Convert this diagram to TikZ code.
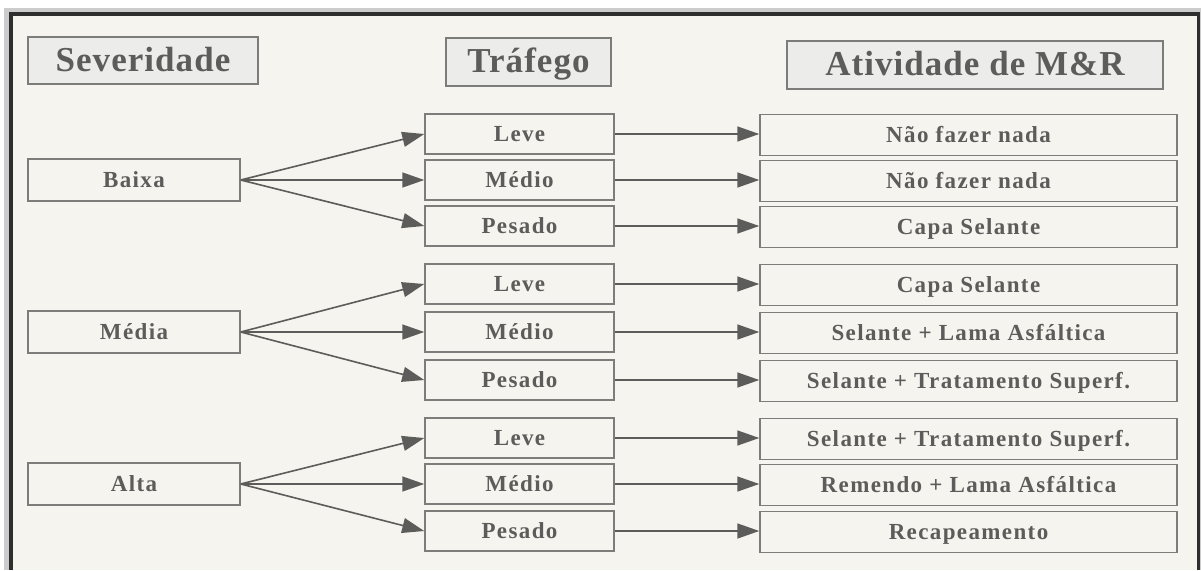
\documentclass[tikz,border=0pt]{standalone}
\usepackage{fontspec}
\setmainfont{Liberation Serif}
\newfontfamily\headfont[LetterSpace=3]{Liberation Serif}
\newfontfamily\boxfont[LetterSpace=6]{Liberation Serif}
\usetikzlibrary{arrows.meta}
\definecolor{paper}{HTML}{F6F4EF}
\definecolor{edge}{HTML}{7C7C7A}
\definecolor{ink}{HTML}{5C5C5A}
\definecolor{headfill}{HTML}{ECECEA}

\begin{document}
\begin{tikzpicture}[x=1pt,y=-1pt,
  head/.style={draw=edge, line width=1.6pt, fill=headfill, text=ink, inner sep=0pt,
    text height=24pt, text depth=3pt,
    font=\headfont\bfseries\fontsize{35}{38}\selectfont},
  box/.style={draw=edge, line width=1.5pt, fill=paper, text=ink, inner sep=0pt,
    text height=16pt, text depth=1pt,
    font=\boxfont\bfseries\fontsize{23}{26}\selectfont},
  sev/.style={box, minimum width=212, minimum height=42},
  traf/.style={box, minimum width=189, minimum height=40},
  acao/.style={box, minimum width=417, minimum height=41},
  seta/.style={draw=ink, line width=1.6pt, -{Triangle[length=22pt,width=15pt]}}]
% frame
\useasboundingbox (0,0) rectangle (1201,570);
\fill[white] (0,0) rectangle (1201,570);
\fill[black!20] (4,8) rectangle (1201,570);
\fill[black!82] (9,12) rectangle (1200,570);
\fill[paper] (13,16) rectangle (1197,570);
% headers
\node[head, minimum width=230, minimum height=47] (hsev) at (143,60.5) {Severidade};
\node[head, minimum width=165, minimum height=48] (htraf) at (528.5,62) {Tráfego};
\node[head, minimum width=376, minimum height=48] (hacao) at (975,65) {Atividade de M\&R};
% severidade
\node[sev] (baixa) at (134,180) {Baixa};
\node[sev] (media) at (134,332) {Média};
\node[sev] (alta) at (134,484) {Alta};
% trafego
\node[traf] (leve1) at (519.5,134) {Leve};
\node[traf] (medio1) at (519.5,180) {Médio};
\node[traf] (pesado1) at (519.5,226) {Pesado};
\node[traf] (leve2) at (519.5,284) {Leve};
\node[traf] (medio2) at (519.5,332) {Médio};
\node[traf] (pesado2) at (519.5,380) {Pesado};
\node[traf] (leve3) at (519.5,438) {Leve};
\node[traf] (medio3) at (519.5,484) {Médio};
\node[traf] (pesado3) at (519.5,531) {Pesado};
% atividade
\node[acao] (acao1) at (968.5,135) {Não fazer nada};
\node[acao] (acao2) at (968.5,181) {Não fazer nada};
\node[acao] (acao3) at (968.5,227) {Capa Selante};
\node[acao] (acao4) at (968.5,285) {Capa Selante};
\node[acao] (acao5) at (968.5,333) {Selante + Lama Asfáltica};
\node[acao] (acao6) at (968.5,381) {Selante + Tratamento Superf.};
\node[acao] (acao7) at (968.5,439) {Selante + Tratamento Superf.};
\node[acao] (acao8) at (968.5,485) {Remendo + Lama Asfáltica};
\node[acao] (acao9) at (968.5,532) {Recapeamento};
% severidade -> trafego
\draw[seta] (baixa.east) -- (leve1.west);
\draw[seta] (baixa.east) -- (medio1.west);
\draw[seta] (baixa.east) -- (pesado1.west);
\draw[seta] (media.east) -- (leve2.west);
\draw[seta] (media.east) -- (medio2.west);
\draw[seta] (media.east) -- (pesado2.west);
\draw[seta] (alta.east) -- (leve3.west);
\draw[seta] (alta.east) -- (medio3.west);
\draw[seta] (alta.east) -- (pesado3.west);
% trafego -> atividade
\draw[seta] (leve1.east) -- (leve1.east -| acao1.west);
\draw[seta] (medio1.east) -- (medio1.east -| acao2.west);
\draw[seta] (pesado1.east) -- (pesado1.east -| acao3.west);
\draw[seta] (leve2.east) -- (leve2.east -| acao4.west);
\draw[seta] (medio2.east) -- (medio2.east -| acao5.west);
\draw[seta] (pesado2.east) -- (pesado2.east -| acao6.west);
\draw[seta] (leve3.east) -- (leve3.east -| acao7.west);
\draw[seta] (medio3.east) -- (medio3.east -| acao8.west);
\draw[seta] (pesado3.east) -- (pesado3.east -| acao9.west);
\end{tikzpicture}
\end{document}
